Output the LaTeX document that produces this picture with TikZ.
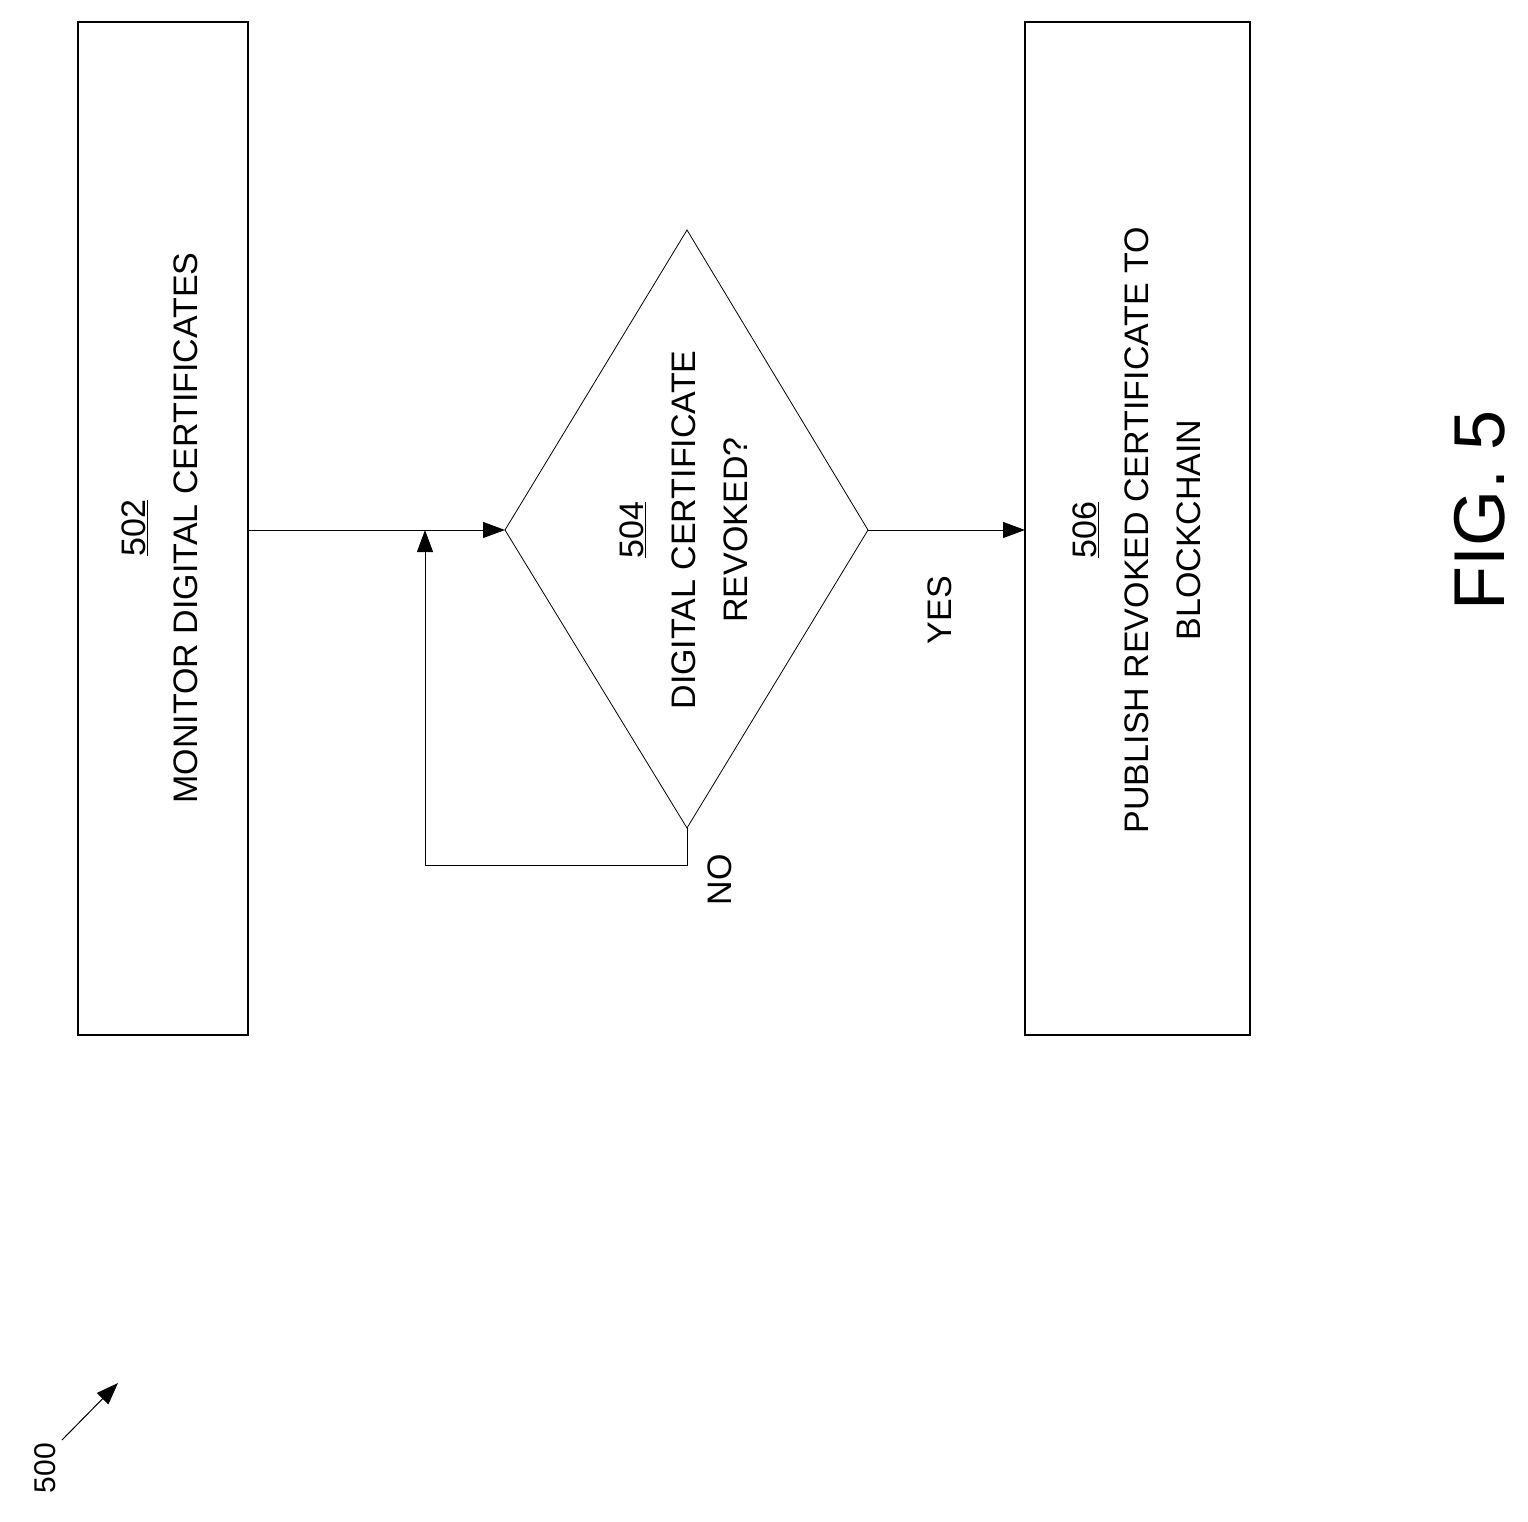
\documentclass[tikz,border=0pt]{standalone}
\usepackage{fontspec}
\setmainfont{Liberation Sans}
\usetikzlibrary{arrows.meta}
\begin{document}
\begin{tikzpicture}[x=1pt,y=-1pt,
  box/.style={draw,line width=2.5pt},
  txt/.style={rotate=90,align=center,font=\fontsize{34}{52}\selectfont},
  arr/.style={-{Triangle[length=22pt,width=16pt]},line width=1pt}]
\useasboundingbox (0,0) rectangle (1528,1522);
\draw[box] (78,22) rectangle (248,1035);
\coordinate (b1r) at (248,530);
\node[txt] (t502) at (160,528) {\underline{502}\\MONITOR DIGITAL CERTIFICATES};
\draw[line width=0.8pt] (687,230) coordinate (dt) -- (868,530) coordinate (dr) -- (687,828) coordinate (db) -- (505,530) coordinate (dl) -- cycle;
\node[txt] (t504) at (684,530) {\underline{504}\\DIGITAL CERTIFICATE\\REVOKED?};
\draw[box] (1025,22) rectangle (1250,1035);
\coordinate (b3l) at (1025,530);
\node[txt] (t506) at (1137,530) {\underline{506}\\PUBLISH REVOKED CERTIFICATE TO\\BLOCKCHAIN};
\draw[arr] (b1r) -- (dl);
\draw[arr] (dr) -- (b3l);
\coordinate (lp) at (425,530);
\draw[arr] (db) -- (687,865) -- (425,865) -- (lp);
\node[txt] (yes) at (940,610) {YES};
\node[txt] (no) at (720,880) {NO};
\node[rotate=90,font=\fontsize{72}{80}\selectfont] (fig) at (1480,510) {FIG. 5};
\node[rotate=90,font=\fontsize{30}{36}\selectfont] (n500) at (45,1468) {500};
\coordinate (a1) at (62,1440);
\coordinate (a2) at (118,1383);
\draw[arr] (a1) -- (a2);
\end{tikzpicture}
\end{document}
